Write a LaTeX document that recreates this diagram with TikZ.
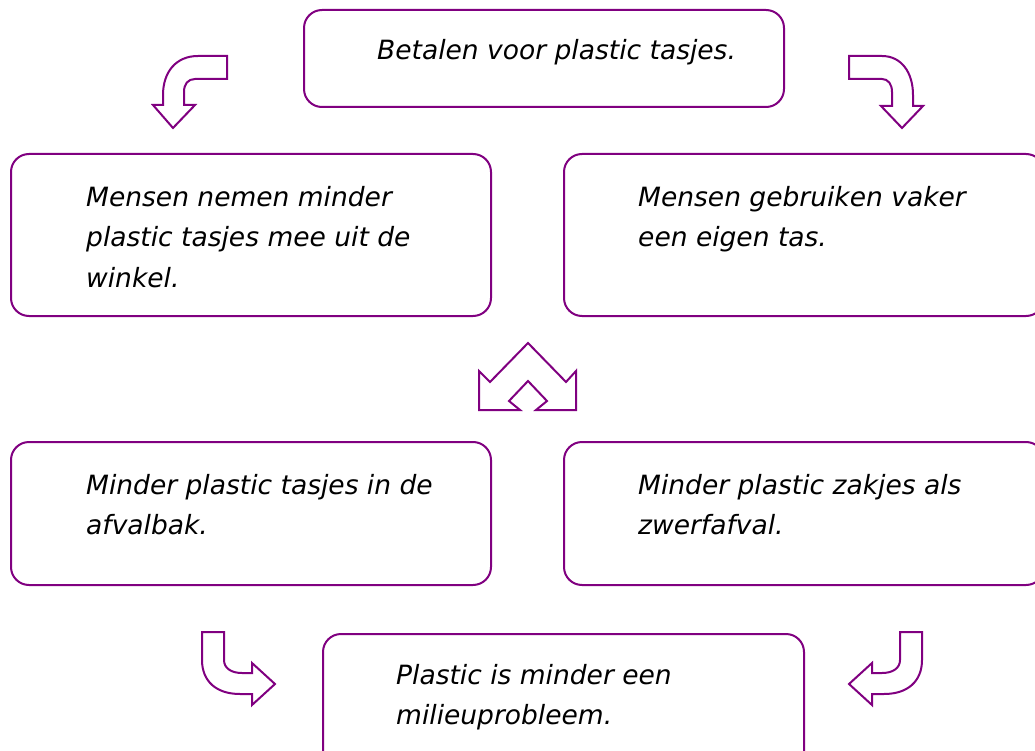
\documentclass[tikz,border=0pt]{standalone}
\usepackage{fontspec}
\setmainfont{DejaVu Sans}
\usepackage{tikz}
\usepackage{xcolor}
\definecolor{paars}{RGB}{128,0,128}

\begin{document}
\begin{tikzpicture}[x=1pt, y=-1pt,
    kader/.style={draw=paars, line width=2pt, rounded corners=18pt, anchor=north west, inner sep=0pt},
    tekst/.style={anchor=base west, align=left, inner sep=0pt, font=\fontsize{26.5}{40}\selectfont\itshape},
    pijl/.style={draw=paars, fill=white, line width=2pt, line join=miter}]
    \useasboundingbox (0, 0) rectangle (1035, 751);
    \path (303, 9) node [kader, minimum width=480, minimum height=97] (top) {};
    \path (377, 60) node [tekst] (ttop) {Betalen voor plastic tasjes.};
    \path (10, 153) node [kader, minimum width=480, minimum height=162] (mn) {};
    \path (86, 287) node [tekst] (tmn) {Mensen nemen minder\\plastic tasjes mee uit de\\winkel.};
    \path (563, 153) node [kader, minimum width=480, minimum height=162] (mg) {};
    \path (638, 247) node [tekst] (tmg) {Mensen gebruiken vaker\\een eigen tas.};
    \path (10, 441) node [kader, minimum width=480, minimum height=143] (ma) {};
    \path (86, 534) node [tekst] (tma) {Minder plastic tasjes in de\\afvalbak.};
    \path (563, 441) node [kader, minimum width=480, minimum height=143] (mz) {};
    \path (638, 534) node [tekst] (tmz) {Minder plastic zakjes als\\zwerfafval.};
    \path (322, 633) node [kader, minimum width=481, minimum height=140] (pm) {};
    \path (396, 724) node [tekst] (tpm) {Plastic is minder een\\milieuprobleem.};
    \draw [pijl] (227, 56) -- (198, 56) .. controls (176, 56) and (163, 72) .. (163, 95)
        -- (163, 105) -- (153, 105) -- (173, 128) -- (195, 105) -- (184, 105) -- (184, 92)
        .. controls (184, 84) and (188, 79) .. (195, 79) -- (227, 79) -- cycle;
    \draw [pijl] (849, 56) -- (882, 56) .. controls (901, 56) and (913, 72) .. (913, 95)
        -- (913, 106) -- (923, 106) -- (902, 128) -- (881, 106) -- (892, 106) -- (892, 92)
        .. controls (892, 84) and (888, 79) .. (882, 79) -- (849, 79) -- cycle;
    \draw [pijl] (528, 343) -- (566, 382) -- (576, 371) -- (576, 410) -- (536, 410) -- (547, 401)
        -- (528, 381) -- (509, 401) -- (520, 410) -- (479, 410) -- (479, 371) -- (490, 382) -- cycle;
    \draw [pijl] (202, 632) -- (224, 632) -- (224, 660) .. controls (224, 668) and (231, 673) .. (242, 673)
        -- (252, 673) -- (252, 663) -- (275, 684) -- (252, 705) -- (252, 694) -- (240, 694)
        .. controls (216, 694) and (202, 681) .. (202, 660) -- cycle;
    \draw [pijl] (922, 632) -- (900, 632) -- (900, 660) .. controls (900, 668) and (893, 673) .. (882, 673)
        -- (872, 673) -- (872, 663) -- (849, 684) -- (872, 705) -- (872, 694) -- (884, 694)
        .. controls (908, 694) and (922, 681) .. (922, 660) -- cycle;
\end{tikzpicture}
\end{document}
